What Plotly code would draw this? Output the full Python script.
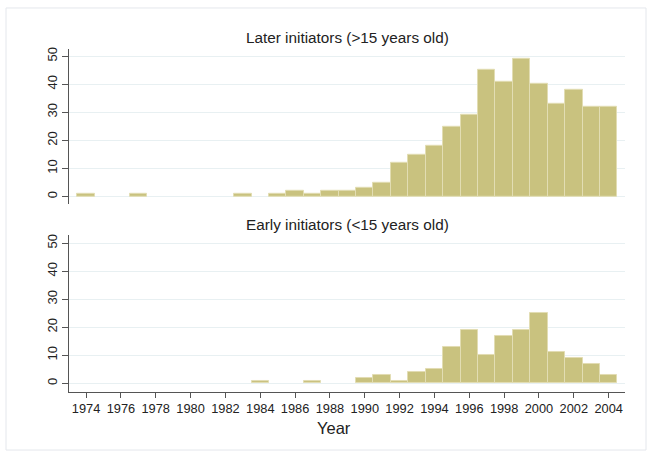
import plotly.graph_objects as go

years = list(range(1974, 2005))
later_counts = [1, 0, 0, 1, 0, 0, 0, 0, 0, 1, 0, 1, 2, 1, 2, 2, 3, 5, 12, 15, 18,
                25, 29, 45, 41, 49, 40, 33, 38, 32, 32]
early_counts = [0, 0, 0, 0, 0, 0, 0, 0, 0, 0, 1, 0, 0, 1, 0, 0, 2, 3, 1, 4, 5,
                13, 19, 10, 17, 19, 25, 11, 9, 7, 3]
x_ticks = list(range(1974, 2005, 2))
y_ticks = [0, 10, 20, 30, 40, 50]
panel_titles = ["Later initiators (>15 years old)", "Early initiators (<15 years old)"]

W, H = 654, 458
FONT = "Liberation Sans, Arial, sans-serif"
BAR = "#C9C27F"
BAR_LINE = "#E2DDB3"
AX = "#555555"
GRID = "#E8F0F2"

def px(x):
    return x / W

def py(y):
    return 1 - y / H

fig = go.Figure()
fig.add_trace(go.Bar(x=years, y=[v if v else None for v in later_counts], width=1,
                     marker=dict(color=BAR, line=dict(color=BAR_LINE, width=1)),
                     xaxis="x", yaxis="y", showlegend=False))
fig.add_trace(go.Bar(x=years, y=[v if v else None for v in early_counts], width=1,
                     marker=dict(color=BAR, line=dict(color=BAR_LINE, width=1)),
                     xaxis="x2", yaxis="y2", showlegend=False))

xdom = [px(69), px(625)]
xrange_ = [1973.02, 2004.94]
yax = dict(range=[-2.7, 52.6], tickvals=y_ticks, ticks="outside", ticklen=6, tickcolor=AX,
           tickwidth=1, showline=True, linecolor=AX, linewidth=1, showgrid=True,
           gridcolor=GRID, gridwidth=1, zeroline=False, tickangle=-90,
           tickfont=dict(family=FONT, size=13, color="#222222"))

fig.update_layout(
    width=W, height=H, margin=dict(l=0, r=0, t=0, b=0),
    paper_bgcolor="white", plot_bgcolor="white", bargap=0,
    xaxis=dict(domain=xdom, range=xrange_, anchor="y", showline=False, showticklabels=False,
               ticks="", showgrid=False, zeroline=False),
    yaxis=dict(domain=[py(203), py(47)], anchor="x", **yax),
    xaxis2=dict(domain=xdom, range=xrange_, anchor="y2", showline=True, linecolor=AX,
                linewidth=1, tickvals=x_ticks, ticks="outside", ticklen=5, tickcolor=AX,
                showgrid=False, zeroline=False,
                tickfont=dict(family=FONT, size=12.8, color="#222222")),
    yaxis2=dict(domain=[py(391.7), py(234)], anchor="x2", **{**yax, "range": [-3.1, 52.9]}),
    font=dict(family=FONT, color="#222222"),
)

fig.add_annotation(x=px(347), y=py(36), xref="paper", yref="paper", text=panel_titles[0],
                   showarrow=False, font=dict(family=FONT, size=15.3, color="#222222"),
                   xanchor="center", yanchor="middle")
fig.add_annotation(x=px(347), y=py(223), xref="paper", yref="paper", text=panel_titles[1],
                   showarrow=False, font=dict(family=FONT, size=15.3, color="#222222"),
                   xanchor="center", yanchor="middle")
fig.add_annotation(x=px(334), y=py(428), xref="paper", yref="paper", text="Year",
                   showarrow=False, font=dict(family=FONT, size=16.5, color="#222222"),
                   xanchor="center", yanchor="middle")

fig.add_shape(type="rect", xref="paper", yref="paper", x0=px(6), x1=px(646),
              y0=py(450), y1=py(6), line=dict(color="#E4E7EC", width=1),
              fillcolor="rgba(0,0,0,0)", layer="below")

fig.write_html("out.html", config={"displayModeBar": False},
               post_script="document.body.style.margin='0';")
